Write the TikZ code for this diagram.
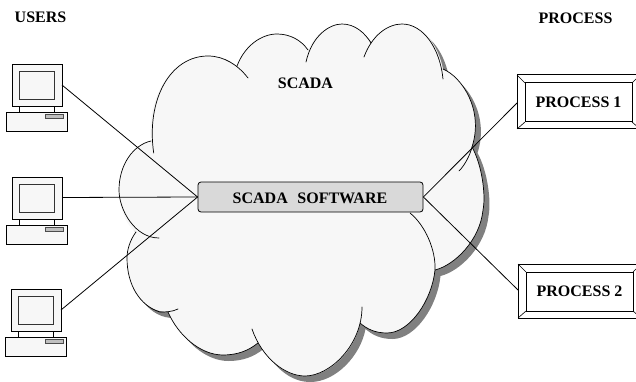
\documentclass[tikz,border=0pt]{standalone}
\usepackage{fontspec}
\setmainfont{Liberation Serif}
\tikzset{
  lbl/.style={font=\bfseries\fontsize{16pt}{18pt}\selectfont,inner sep=0pt},
  lobe/.style={line width=0.7pt,line cap=round},
  conn/.style={line width=0.8pt},
  mon/.style={draw=black,fill=black!3,line width=0.8pt}
}
\newcommand{\cloudpath}{(151,141) .. controls (146,100) and (170,56) .. (208,56) .. controls (220,56) and (230,60) .. (237,66)
 .. controls (245,45) and (262,34) .. (277,34) .. controls (290,34) and (300,40) .. (308,50)
 .. controls (315,33) and (330,24) .. (342,24) .. controls (355,24) and (365,33) .. (371,43)
 .. controls (380,30) and (390,24) .. (402,24) .. controls (423,24) and (438,45) .. (443,69)
 .. controls (462,77) and (484,110) .. (472,147)
 .. controls (482,165) and (486,195) .. (483,210) .. controls (480,240) and (455,265) .. (435,270)
 .. controls (432,300) and (410,333) .. (387,333) .. controls (375,333) and (367,329) .. (360,323)
 .. controls (355,350) and (330,376) .. (305,376) .. controls (285,376) and (270,362) .. (258,343)
 .. controls (248,351) and (237,355) .. (223,355) .. controls (200,355) and (178,335) .. (168,312)
 .. controls (145,312) and (127,290) .. (127,258) .. controls (127,250) and (130,240) .. (136,232)
 .. controls (125,225) and (119,205) .. (119,190) .. controls (119,165) and (133,145) .. (151,141) -- cycle}
\begin{document}
\begin{tikzpicture}[x=1pt,y=-1pt]
\useasboundingbox (0,0) rectangle (636,382);
% cloud
\fill[black!50,shift={(5.5,6)}] \cloudpath;
\fill[black!3] \cloudpath;
\draw[lobe] (153.7,153) .. controls (146,100) and (170,56) .. (208,56) .. controls (224,56) and (238,65) .. (248,78);
\draw[lobe] (237,66) .. controls (245,45) and (262,34) .. (277,34) .. controls (290,34) and (301,40) .. (308,50);
\draw[lobe] (306,62) .. controls (312,35) and (330,24) .. (342,24) .. controls (355,24) and (365,33) .. (371,43);
\draw[lobe] (364,57) .. controls (372,35) and (388,24) .. (402,24) .. controls (423,24) and (440,48) .. (443,79);
\draw[lobe] (443,69) .. controls (462,77) and (484,110) .. (472,147) .. controls (470,155) and (465,165) .. (459,171);
\draw[lobe] (472,147) .. controls (482,165) and (486,195) .. (483,210) .. controls (480,240) and (455,265) .. (435,270);
\draw[lobe] (410,213) .. controls (425,225) and (436,250) .. (435,270) .. controls (432,300) and (410,333) .. (387,333) .. controls (375,333) and (367,329) .. (360,323);
\draw[lobe] (362,307) .. controls (362,345) and (330,376) .. (305,376) .. controls (285,376) and (262,358) .. (252,329);
\draw[lobe] (258,343) .. controls (248,351) and (237,355) .. (223,355) .. controls (200,355) and (178,335) .. (168,312);
\draw[lobe] (178,309) .. controls (172,312) and (165,312) .. (160,312) .. controls (140,306) and (127,285) .. (127,258) .. controls (127,250) and (130,240) .. (136,232);
\draw[lobe] (159,238) .. controls (135,238) and (119,210) .. (119,190) .. controls (119,165) and (133,145) .. (151,141);
% computers
\foreach \dx/\dy in {0/0,0/113,-0.5/225}{
 \begin{scope}[xshift=\dx pt,yshift=-\dy pt]
  \draw[line width=0.8pt] (19,106) -- (19,112) (54,106) -- (54,112);
  \draw[mon] (6,112) rectangle (67,131);
  \draw[draw=black!70,fill=black!25,line width=0.5pt] (45.5,114.5) rectangle (63.5,118);
  \draw[mon] (12,64) rectangle (62,106);
  \draw[draw=black!80,fill=black!3,line width=0.9pt] (19,71) rectangle (54,99);
 \end{scope}
}
% central box
\node[draw=black,fill=black!15,rounded corners=3pt,line width=0.8pt,minimum width=225pt,minimum height=30pt,inner sep=0pt] (sw) at (310.5,197) {};
\coordinate (ua) at (62,85);
\coordinate (ub) at (62,197.5);
\coordinate (uc) at (61,310);
\coordinate (p1) at (517,103);
\coordinate (p2) at (518,290);
\draw[conn] (ua) -- (sw.west);
\draw[conn] (ub) -- (sw.west);
\draw[conn] (uc) -- (sw.west);
\draw[conn] (sw.east) -- (p1);
\draw[conn] (sw.east) -- (p2);
\node[lbl] (swt) at (310,198) {SCADA\hspace{0.6em}SOFTWARE};
\node[lbl] (scada) at (305.5,83.5) {SCADA};
% process boxes
\foreach \x/\y/\t in {0/75/PROCESS 1,1/264/PROCESS 2}{
 \begin{scope}[xshift=\x pt,yshift=-\y pt]
 \draw[line width=1pt,fill=white] (517,0) rectangle (640,54);
 \draw[line width=1pt] (525,8) rectangle (632,47);
 \draw[line width=0.6pt] (517,0)--(525,8) (517,54)--(525,47) (640,0)--(632,8) (640,54)--(632,47);
 \node[lbl] at (578.5,27.5) {\t};
 \end{scope}
}
\node[lbl] (users) at (40.5,17.5) {USERS};
\node[lbl] (proc) at (575.5,18.5) {PROCESS};
\end{tikzpicture}
\end{document}
